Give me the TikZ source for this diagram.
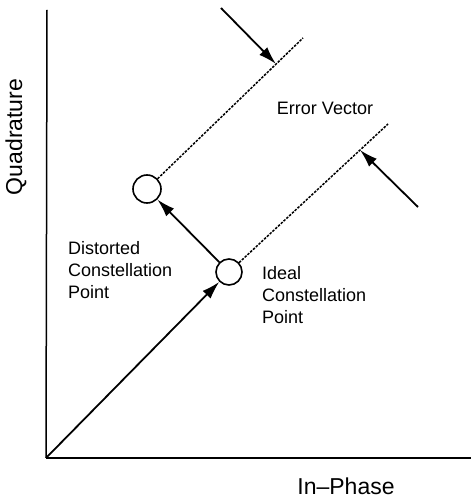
\documentclass[tikz,border=0pt]{standalone}
\usepackage{fontspec}
\setmainfont{Liberation Sans}
\usetikzlibrary{arrows.meta}
\begin{document}
\begin{tikzpicture}[
    x=1pt, y=1pt,
    point/.style={draw, circle, line width=1.6pt, minimum size=26pt, inner sep=0pt, fill=white},
    arrow/.style={-{Latex[length=18pt,width=11pt]}, line width=1.8pt},
    guide/.style={line width=1.5pt, dash pattern=on 2.5pt off 1.3pt},
    axis/.style={line width=1.5pt},
    lbl/.style={font=\fontsize{18}{22}\selectfont, align=left, inner sep=0pt}
]
\useasboundingbox (0,0) rectangle (471,499);

% Axes
\coordinate (O) at (46,41);
\coordinate (qend) at (47,489);
\coordinate (iend) at (471,41);
\draw[axis] (O) -- (qend);
\draw[axis] (O) -- (iend);

% Constellation points
\node[point] (ideal) at (229,227) {};
\node[point, minimum size=28pt] (dist) at (147,310) {};

% Guide lines
\coordinate (dtop) at (303,461);
\coordinate (itop) at (388,375);
\draw[guide] (dist) -- (dtop);
\draw[guide] (ideal) -- (itop);

% Where the outer arrows meet the guides
\coordinate (hitA) at (276,435);
\coordinate (hitB) at (360,349);
\coordinate (tailA) at (221,491);
\coordinate (tailB) at (418,292);

% Arrows
\draw[arrow] (O) -- (ideal);
\draw[arrow] (ideal) -- (dist);
\draw[arrow] (tailA) -- (hitA);
\draw[arrow] (tailB) -- (hitB);

% Labels
\node[lbl] (err) at (325,391) {Error Vector};
\node[lbl, anchor=west] (distlbl) at (68,229) {Distorted\\Constellation\\Point};
\node[lbl, anchor=west] (ideallbl) at (262,204) {Ideal\\Constellation\\Point};
\node[lbl, font=\fontsize{23}{26}\selectfont, rotate=90] (quad) at (16,362) {Quadrature};
\node[lbl, font=\fontsize{23}{26}\selectfont] (inph) at (346,13) {In--Phase};

\end{tikzpicture}
\end{document}
